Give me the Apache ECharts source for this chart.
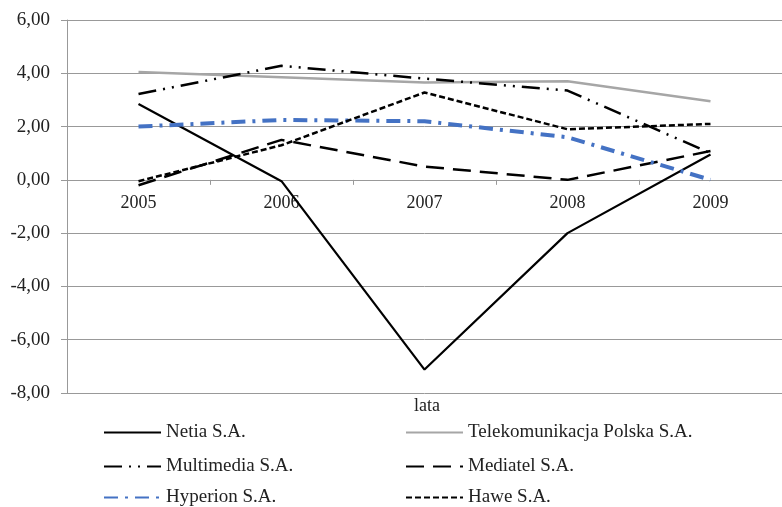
<!DOCTYPE html>
<html>
<head>
<meta charset="utf-8">
<script src="https://cdn.jsdelivr.net/npm/echarts@6/dist/echarts.min.js"></script>
<style>
  html, body { margin: 0; padding: 0; background: #fff; }
  #chart { width: 782px; height: 507px; }
</style>
</head>
<body>
<div id="chart"></div>
<script>
const years = ['2005', '2006', '2007', '2008', '2009']

const netia = [2.85, -0.05, -7.12, -2.0, 0.95]
const tpsa = [4.05, 3.85, 3.65, 3.7, 2.95]
const multimedia = [3.22, 4.28, 3.8, 3.35, 1.0]
const mediatel = [-0.2, 1.5, 0.5, 0.0, 1.08]
const hyperion = [2.0, 2.25, 2.2, 1.6, 0.0]
const hawe = [-0.05, 1.3, 3.28, 1.9, 2.1]

const font = 'Liberation Serif'

function line(name, data, color, width, type) {
  return {
    name,
    type: 'line',
    data,
    symbol: 'none',
    silent: true,
    lineStyle: { color, width, type },
    itemStyle: { color }
  }
}

// one legend per entry so each sits where the original put it
const legendSpots = [
  ['Netia S.A.', 103, 423],
  ['Telekomunikacja Polska S.A.', 405, 423],
  ['Multimedia S.A.', 103, 457],
  ['Mediatel S.A.', 405, 457],
  ['Hyperion S.A.', 103, 488],
  ['Hawe S.A.', 405, 488]
]

const legends = legendSpots.map(([name, left, top]) => ({
  data: [name],
  left,
  top,
  padding: 0,
  itemWidth: 57,
  itemHeight: 14,
  itemStyle: { opacity: 0 },
  textStyle: { fontFamily: font, fontSize: 19, color: '#222', padding: [0, 0, 0, 0] }
}))

const chart = echarts.init(document.getElementById('chart'))

chart.setOption({
  animation: false,
  title: {
    text: 'lata',
    left: 414,
    top: 397,
    padding: 0,
    textStyle: { fontFamily: font, fontSize: 18, fontWeight: 'normal', color: '#222' }
  },
  grid: { left: 67, right: -10, top: 20, bottom: 114 },
  legend: legends,
  xAxis: [
    {
      type: 'category',
      data: years,
      boundaryGap: true,
      axisLine: { onZero: true, lineStyle: { color: '#999', width: 1 } },
      axisTick: { show: true, length: 5, lineStyle: { color: '#999' } },
      axisLabel: { show: false }
    },
    {
      type: 'category',
      data: years,
      position: 'bottom',
      offset: -213,
      boundaryGap: true,
      axisLine: { show: false, onZero: false },
      axisTick: { show: false },
      axisLabel: { fontFamily: font, fontSize: 18, color: '#222', margin: 14 }
    }
  ],
  yAxis: {
    type: 'value',
    min: -8,
    max: 6,
    interval: 2,
    axisLine: { show: true, lineStyle: { color: '#999', width: 1 } },
    axisTick: { show: true, length: 6, lineStyle: { color: '#999' } },
    splitLine: { lineStyle: { color: '#999', width: 1 } },
    axisLabel: {
      fontFamily: font,
      fontSize: 19,
      color: '#222',
      margin: 17,
      formatter: v => v.toFixed(2).replace('.', ',')
    }
  },
  series: [
    line('Netia S.A.', netia, '#000', 2.2, 'solid'),
    line('Telekomunikacja Polska S.A.', tpsa, '#a6a6a6', 2.5, 'solid'),
    line('Multimedia S.A.', multimedia, '#000', 2.5, [18, 7, 2, 7, 2, 7]),
    line('Mediatel S.A.', mediatel, '#000', 2.5, [18, 9]),
    line('Hyperion S.A.', hyperion, '#4472c4', 4, [14, 7, 3, 7]),
    line('Hawe S.A.', hawe, '#000', 2.5, [6, 3])
  ]
})
</script>
</body>
</html>
